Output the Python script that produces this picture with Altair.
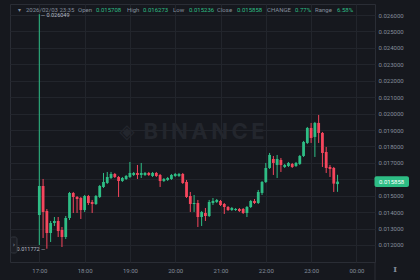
import altair as alt
import pandas as pd

# ---- data (5-minute candles starting 17:00) ----
open_p = [0.013827, 0.015593, 0.014071, 0.012731, 0.013340, 0.013462, 0.012914, 0.012487, 0.013644, 0.015167,
          0.014923, 0.014862, 0.014132, 0.014984, 0.014619, 0.014497, 0.014923, 0.015532, 0.015776, 0.016080,
          0.016324, 0.016141, 0.015898, 0.016019, 0.016141, 0.016263, 0.016385, 0.016263, 0.016263, 0.016385,
          0.016202, 0.016385, 0.016263, 0.015898, 0.015959, 0.016019, 0.016202, 0.016202, 0.016324, 0.015837,
          0.014984, 0.014497, 0.014558, 0.013705, 0.013949, 0.013766, 0.014558, 0.014619, 0.014680, 0.014497,
          0.014314, 0.014132, 0.014132, 0.014192, 0.014192, 0.013949, 0.014314, 0.014680, 0.014558, 0.015167,
          0.015837, 0.016689, 0.017237, 0.016872, 0.017177, 0.016750, 0.016811, 0.016933, 0.016811, 0.016933,
          0.017420, 0.018212, 0.019125, 0.018577, 0.019430, 0.018821, 0.017664, 0.016750, 0.016689, 0.015708]
high_p = [0.026049, 0.016019, 0.014192, 0.013462, 0.013705, 0.013705, 0.013096, 0.013766, 0.015228, 0.015228,
          0.014984, 0.014923, 0.015045, 0.015045, 0.014741, 0.015045, 0.015654, 0.016385, 0.016446, 0.016446,
          0.016385, 0.016202, 0.016141, 0.016263, 0.017055, 0.016446, 0.016872, 0.016994, 0.016446, 0.016446,
          0.016446, 0.016446, 0.016324, 0.016080, 0.016141, 0.016324, 0.016385, 0.016385, 0.016385, 0.015959,
          0.015228, 0.015045, 0.014741, 0.014071, 0.014253, 0.014741, 0.014862, 0.014801, 0.014741, 0.014558,
          0.014375, 0.014314, 0.014253, 0.014253, 0.014253, 0.014375, 0.014741, 0.014801, 0.015350, 0.015898,
          0.016994, 0.017603, 0.017420, 0.017481, 0.017298, 0.016933, 0.017055, 0.016994, 0.017055, 0.017481,
          0.018334, 0.019186, 0.019430, 0.019491, 0.019917, 0.018882, 0.017968, 0.016872, 0.016750, 0.016273]
low_p = [0.012000, 0.012426, 0.011772, 0.012183, 0.013157, 0.012487, 0.011878, 0.012365, 0.013523, 0.013949,
         0.013949, 0.013583, 0.014010, 0.014436, 0.013949, 0.014436, 0.014862, 0.015471, 0.015715, 0.016019,
         0.016080, 0.014923, 0.015837, 0.015959, 0.016080, 0.016202, 0.016019, 0.016080, 0.016202, 0.016202,
         0.016141, 0.016141, 0.015532, 0.015837, 0.015898, 0.015959, 0.016141, 0.016141, 0.015715, 0.014862,
         0.014010, 0.014010, 0.013096, 0.013157, 0.013462, 0.013705, 0.014436, 0.014558, 0.014375, 0.013888,
         0.014071, 0.014071, 0.014071, 0.014010, 0.013888, 0.013705, 0.014253, 0.014497, 0.014497, 0.015045,
         0.015776, 0.016628, 0.016263, 0.016080, 0.016446, 0.016689, 0.016750, 0.016689, 0.016750, 0.016872,
         0.017359, 0.018151, 0.018212, 0.017359, 0.018212, 0.016750, 0.016385, 0.016141, 0.015228, 0.015236]
close_p = [0.015593, 0.014010, 0.012731, 0.013340, 0.013462, 0.012853, 0.012487, 0.013644, 0.015167, 0.014923,
           0.014801, 0.014132, 0.014984, 0.014558, 0.014497, 0.014984, 0.015593, 0.015837, 0.016141, 0.016324,
           0.016141, 0.015898, 0.016080, 0.016202, 0.016385, 0.016385, 0.016263, 0.016385, 0.016385, 0.016263,
           0.016385, 0.016202, 0.015898, 0.016019, 0.016080, 0.016263, 0.016324, 0.016324, 0.015776, 0.014923,
           0.014497, 0.014558, 0.013705, 0.014010, 0.013766, 0.014619, 0.014680, 0.014741, 0.014436, 0.014314,
           0.014132, 0.014253, 0.014192, 0.014071, 0.013949, 0.014314, 0.014680, 0.014558, 0.015228, 0.015837,
           0.016689, 0.017481, 0.016994, 0.017237, 0.016872, 0.016872, 0.016994, 0.016750, 0.016994, 0.017420,
           0.018273, 0.019125, 0.018516, 0.019430, 0.018821, 0.017603, 0.016689, 0.016628, 0.015736, 0.015858]
interval_min = 5
hour_labels = ["17:00", "18:00", "19:00", "20:00", "21:00", "22:00", "23:00", "00:00"]
price_ticks = [0.012, 0.013, 0.014, 0.015, 0.016, 0.017, 0.018, 0.019, 0.020,
               0.021, 0.022, 0.023, 0.024, 0.025, 0.026]
header_date = "2026/02/03 23:35"
header_items = [("Open", "0.015708"), ("High", "0.016273"), ("Low", "0.015236"),
                ("Close", "0.015858"), ("CHANGE", "0.77%"), ("Range", "6.58%")]
high_label = "0.026049"
low_label = "0.011772"
last_price = "0.015858"
watermark = "BINANCE"

# ---- styling ----
BG = "#16181e"
GRID = "#22252c"
BORDER = "#2a2d35"
LBL = "#848e9c"
UP = "#2ebd85"
DOWN = "#f6465d"
FONT = "Roboto"

df = pd.DataFrame({"t": [interval_min * i for i in range(len(open_p))],
                   "o": open_p, "h": high_p, "l": low_p, "c": close_p})

xs = alt.Scale(domain=[-32.2, 438.0], nice=False, zero=False)
ys = alt.Scale(domain=[0.010965, 0.02667], nice=False, zero=False)
label_expr = "[" + ",".join(f"'{s}'" for s in hour_labels) + "][round(datum.value/60)]"
xaxis = alt.Axis(values=[60 * i for i in range(len(hour_labels))], labelExpr=label_expr, title=None,
                 grid=True, gridColor=GRID, gridWidth=1, ticks=False, domain=False,
                 labelColor=LBL, labelFont=FONT, labelFontSize=6, labelPadding=5)
# the last-price tag hides the tick label that sits under it
hide_expr = f"abs(datum.value - {float(last_price)}) < 0.0004 ? '' : datum.label"
yaxis = alt.Axis(orient="right", values=price_ticks, format=".6f", title=None,
                 grid=True, gridColor=GRID, gridWidth=1, ticks=False, domain=False,
                 labelColor=LBL, labelFont=FONT, labelFontSize=6, labelPadding=3,
                 labelBaseline="middle", labelExpr=hide_expr)
color = alt.condition("datum.c >= datum.o", alt.value(UP), alt.value(DOWN))

X = alt.X("t:Q", scale=xs, axis=xaxis)

wicks = alt.Chart(df).mark_rule(strokeWidth=1).encode(
    x=X, y=alt.Y("l:Q", scale=ys, axis=yaxis), y2="h:Q", color=color)
bodies = alt.Chart(df).mark_bar(size=2.8).encode(
    x=X, y=alt.Y("o:Q", scale=ys, axis=yaxis), y2="c:Q", color=color)

last = df.tail(1)
tag = alt.Chart(last).mark_rect(color=UP, cornerRadius=2, yOffset=-5.3, y2Offset=5.3).encode(
    x=alt.value(364.5), x2=alt.value(399), y=alt.Y("c:Q", scale=ys, axis=yaxis), y2="c:Q")
tag_text = alt.Chart(last).mark_text(align="left", baseline="middle", font=FONT, fontSize=6,
                                     color="#ffffff").encode(
    x=alt.value(369), y=alt.Y("c:Q", scale=ys, axis=yaxis), text=alt.value(last_price))

hi_df = df.loc[[df["h"].idxmax()]]
lo_df = df.loc[[df["l"].idxmin()]]
hi_text = alt.Chart(hi_df).mark_text(align="left", baseline="middle", font=FONT, fontSize=5.5,
                                     color="#b7bdc6", dx=1.5, dy=0.5).encode(
    x=X, y=alt.Y("h:Q", scale=ys, axis=yaxis), text=alt.value("— " + high_label))
lo_text = alt.Chart(lo_df).mark_text(align="right", baseline="middle", font=FONT, fontSize=5.5,
                                     color="#b7bdc6", dx=-1.5, clip=True).encode(
    x=X, y=alt.Y("l:Q", scale=ys, axis=yaxis), text=alt.value(low_label + " —"))

one = pd.DataFrame({"a": [0]})
wm_logo = alt.Chart(one).mark_text(align="center", baseline="middle", fontSize=20,
                                   color="#23262d", font="DejaVu Sans").encode(
    x=alt.value(117), y=alt.value(128), text=alt.value("◈"))
wm_text = alt.Chart(one).mark_text(align="center", baseline="middle", fontSize=22, fontWeight="bold",
                                   color="#23262d", font="Inter").encode(
    x=alt.value(194), y=alt.value(128), text=alt.value("\u2009".join(watermark)))

# header row
hx = [68, 86, 117, 133, 163, 179, 207, 227, 257, 285, 305, 327]
header_layers = [
    alt.Chart(one).mark_text(align="left", baseline="middle", font="DejaVu Sans", fontSize=6,
                             color=LBL).encode(x=alt.value(8), y=alt.value(6), text=alt.value("▾")),
    alt.Chart(one).mark_text(align="left", baseline="middle", font=FONT, fontSize=6,
                             color=LBL).encode(x=alt.value(16), y=alt.value(6), text=alt.value(header_date)),
]
for k, (name, val) in enumerate(header_items):
    header_layers.append(alt.Chart(one).mark_text(align="left", baseline="middle", font=FONT, fontSize=6,
                                                  color=LBL).encode(
        x=alt.value(hx[2 * k]), y=alt.value(6), text=alt.value(name)))
    header_layers.append(alt.Chart(one).mark_text(align="left", baseline="middle", font=FONT, fontSize=6,
                                                  color=UP).encode(
        x=alt.value(hx[2 * k + 1]), y=alt.value(6), text=alt.value(val)))

btn = alt.Chart(one).mark_rect(fill="#1c1e25", stroke="#30343c", strokeWidth=1, cornerRadius=2).encode(
    x=alt.value(0.5), x2=alt.value(7), y=alt.value(233), y2=alt.value(249))
btn_t = alt.Chart(one).mark_text(align="center", baseline="middle", fontSize=7, color=LBL,
                                 font="DejaVu Sans").encode(
    x=alt.value(4), y=alt.value(241), text=alt.value("›"))
sep = alt.Chart(one).mark_rule(color=BORDER).encode(
    x=alt.value(365), y=alt.value(258), y2=alt.value(276))
icon = alt.Chart(one).mark_text(align="center", baseline="middle", fontSize=8, fontWeight="bold",
                                color=LBL, font="DejaVu Serif").encode(
    x=alt.value(385), y=alt.value(266), text=alt.value("I"))

chart = alt.layer(wm_logo, wm_text, wicks, bodies, hi_text, lo_text, tag, tag_text,
                  btn, btn_t, sep, icon, *header_layers).properties(
    width=365, height=258, background=BG,
    autosize=alt.AutoSizeParams(type="none"),
    padding={"left": 10, "top": 4, "right": 45, "bottom": 18},
).configure_view(stroke=BORDER, strokeWidth=1)

chart.save("out.html", embed_options={"renderer": "svg", "actions": False})
